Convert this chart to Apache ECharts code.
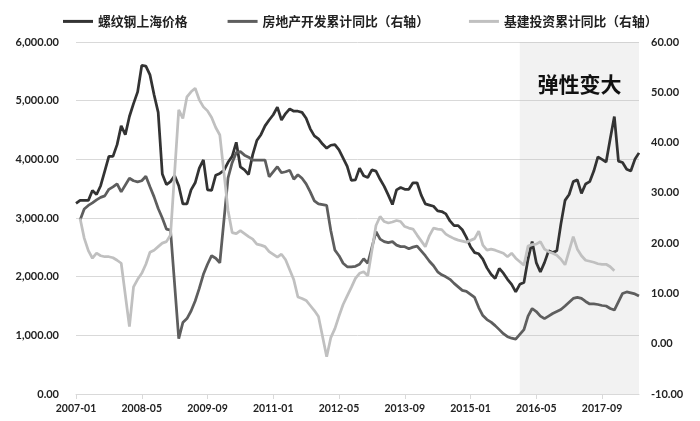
<!DOCTYPE html>
<html lang="zh-CN">
<head>
    <meta charset="UTF-8">
    <title>螺纹钢价格与地产、基建投资</title>
    <script src="https://cdn.jsdelivr.net/npm/echarts@6/dist/echarts.min.js"></script>
    <style>
        html, body { margin: 0; padding: 0; background: #fff; }
        #main { width: 700px; height: 421px; }
    </style>
</head>
<body>
<div id="main"></div>
<script type="text/javascript">
    // 月份 2007-01 ~ 2018-06
    var months = [];
    for (var y = 2007; y <= 2018; y++) {
        for (var m = 1; m <= 12; m++) {
            if (y === 2018 && m > 6) break;
            months.push(y + '-' + (m < 10 ? '0' + m : m));
        }
    }

    // 螺纹钢上海价格（左轴）
    var steelPrice = [
        3250, 3300, 3300, 3300, 3470, 3400, 3550, 3800, 4050, 4050, 4250, 4570,
        4420, 4730, 4950, 5150, 5600, 5590, 5440, 5100, 4800, 3750, 3570, 3620,
        3720, 3550, 3240, 3240, 3480, 3600, 3850, 3990, 3480, 3470, 3730, 3760,
        3810, 3950, 4050, 4290, 3870, 3820, 3740, 4080, 4320, 4420, 4570, 4670,
        4760, 4890, 4670, 4780, 4860, 4820, 4820, 4800, 4700, 4520, 4400, 4350,
        4260, 4190, 4240, 4250, 4160, 4020, 3880, 3640, 3650, 3850, 3720, 3690,
        3820, 3800, 3660, 3540, 3390, 3230, 3480, 3520, 3490, 3490, 3600, 3600,
        3390, 3240, 3220, 3200, 3120, 3110, 3070, 2950, 2870, 2870, 2800, 2670,
        2510, 2410, 2390, 2300, 2150, 2040, 1970, 2140, 2060, 1955, 1870, 1740,
        1870, 1900, 2300, 2600, 2240, 2080, 2240, 2440, 2410, 2440, 2900, 3300,
        3400, 3620, 3650, 3420, 3580, 3620, 3800, 4040, 4000, 3955, 4350, 4730,
        3970, 3945, 3830, 3800, 4000, 4110
    ];

    // 房地产开发累计同比（右轴），1月无数据
    var realEstate = [
        null, 24.6, 26.8, 27.5, 28.0, 28.6, 29.1, 29.4, 30.7, 31.2, 31.8, 30.2,
        null, 32.9, 32.4, 32.2, 32.4, 33.3, 31.2, 29.2, 26.9, 25.0, 22.8, 22.6,
        null, 1.0, 4.2, 5.0, 6.5, 8.5, 11.0, 13.8, 15.8, 17.5, 17.0, 16.1,
        null, 33.0, 36.0, 38.0, 38.2, 37.5, 37.1, 36.5, 36.5, 36.5, 36.5, 33.2,
        null, 35.2, 34.0, 34.2, 34.5, 32.7, 33.6, 32.9, 31.8, 30.2, 28.4, 27.8,
        null, 27.5, 22.5, 18.6, 17.5, 16.0, 15.3, 15.3, 15.4, 15.8, 16.9, 16.0,
        null, 22.3, 20.8, 20.3, 20.1, 20.3, 19.6, 19.3, 19.3, 18.9, 19.2, 19.4,
        null, 17.5, 16.4, 15.5, 14.3, 13.7, 13.3, 12.8, 12.0, 11.3, 10.6, 10.4,
        null, 9.2, 7.2, 5.6, 4.8, 4.3, 3.6, 2.8, 2.0, 1.4, 1.1, 0.9,
        null, 2.8, 5.5, 7.0, 6.4, 5.5, 5.0, 5.5, 6.0, 6.4, 6.8, 7.5,
        null, 9.0, 9.2, 9.0, 8.4, 7.9, 7.9, 7.8, 7.6, 7.5, 7.0, 6.7,
        null, 10.0, 10.3, 10.1, 9.9, 9.5
    ];

    // 基建投资累计同比（右轴）
    var infra = [
        null, 24.9, 21.0, 18.5, 17.0, 18.0, 17.5, 17.3, 17.3, 17.1, 16.6, 16.0,
        null, 3.4, 11.3, 12.8, 14.0, 15.8, 18.2, 18.6, 19.3, 20.0, 20.3, 21.6,
        null, 46.5, 44.8, 49.1, 50.1, 50.8, 48.5, 47.1, 46.3, 45.0, 43.0, 41.5,
        null, 26.5, 22.1, 21.9, 22.5, 21.9, 21.3, 20.8, 19.8, 19.6, 19.3, 18.3,
        null, 17.2, 17.8, 16.7, 14.7, 12.7, 9.3, 9.0, 8.6, 7.6, 6.6, 5.4,
        null, -2.6, 1.2, 3.0, 5.5, 7.8, 9.5, 11.2, 13.0, 14.0, 14.3, 13.5,
        null, 23.5, 25.3, 24.3, 24.0, 24.2, 24.5, 24.3, 23.3, 23.0, 22.8, 21.6,
        null, 19.3, 21.5, 23.0, 22.8, 22.7, 21.8, 21.3, 20.9, 20.6, 20.4, 20.2,
        null, 20.9, 22.4, 19.6, 18.6, 18.8, 18.6, 18.3, 18.0, 17.3, 18.0, 17.0,
        null, 15.6, 19.4, 19.7, 19.8, 20.3, 18.8, 18.3, 18.0, 17.6, 16.8, 15.7,
        null, 21.3, 18.8, 17.5, 16.6, 16.4, 16.2, 15.9, 15.8, 15.8, 15.3, 14.5,
        null, null, null, null, null, null
    ];

    var seriesNames = ['螺纹钢上海价格', '房地产开发累计同比（右轴）', '基建投资累计同比（右轴）'];
    var shadeRange = ['2016-01', '2018-06'];
    var shadeText = '弹性变大';

    var labelFont = {color: '#222', fontFamily: 'Lato', fontWeight: 'bold', fontSize: 11};

    var chart = echarts.init(document.getElementById('main'));
    chart.setOption({
        animation: false,
        backgroundColor: '#fff',
        grid: {left: 76, right: 61, top: 42, bottom: 27},
        legend: {
            data: seriesNames,
            left: 58,
            top: 10,
            icon: 'rect',
            itemWidth: 30,
            itemHeight: 3,
            itemGap: 40,
            textStyle: {
                color: '#222',
                fontFamily: 'Noto Sans CJK SC',
                fontWeight: 'bold',
                fontSize: 12.8
            }
        },
        xAxis: {
            type: 'category',
            data: months,
            boundaryGap: false,
            axisLine: {lineStyle: {color: '#d9d9d9', width: 1}},
            axisTick: {interval: 15, length: 5, lineStyle: {color: '#d9d9d9'}},
            axisLabel: Object.assign({interval: 15, margin: 9}, labelFont, {fontSize: 10.5})
        },
        yAxis: [
            {
                type: 'value',
                min: 0,
                max: 6000,
                interval: 1000,
                axisLine: {show: false},
                axisTick: {show: false},
                splitLine: {lineStyle: {color: '#d9d9d9'}},
                axisLabel: Object.assign({
                    margin: 17,
                    formatter: function (v) {
                        return v.toLocaleString('en-US', {minimumFractionDigits: 2, maximumFractionDigits: 2});
                    }
                }, labelFont)
            },
            {
                type: 'value',
                min: -10,
                max: 60,
                interval: 10,
                axisLine: {show: false},
                axisTick: {show: false},
                splitLine: {show: false},
                axisLabel: Object.assign({
                    margin: 12,
                    formatter: function (v) { return v.toFixed(2); }
                }, labelFont)
            }
        ],
        series: [
            {
                name: seriesNames[0],
                type: 'line',
                yAxisIndex: 0,
                data: steelPrice,
                symbol: 'none',
                color: '#333333',
                lineStyle: {width: 2.75, color: '#333333'}
            },
            {
                name: seriesNames[1],
                type: 'line',
                yAxisIndex: 1,
                data: realEstate,
                connectNulls: true,
                symbol: 'none',
                color: '#5e5e5e',
                lineStyle: {width: 2.75, color: '#5e5e5e'}
            },
            {
                name: seriesNames[2],
                type: 'line',
                yAxisIndex: 1,
                data: infra,
                connectNulls: true,
                symbol: 'none',
                color: '#c0c0c0',
                lineStyle: {width: 2.75, color: '#c0c0c0'}
            },
            {
                // 阴影区域，叠在线上方
                name: 'shade',
                type: 'line',
                yAxisIndex: 0,
                data: [],
                z: 5,
                silent: true,
                markArea: {
                    silent: true,
                    itemStyle: {color: 'rgba(190,190,190,0.2)'},
                    label: {
                        show: true,
                        position: 'insideTop',
                        distance: 32,
                        color: '#111',
                        fontFamily: 'Noto Sans CJK SC',
                        fontWeight: 'bold',
                        fontSize: 21
                    },
                    data: [[{name: shadeText, xAxis: shadeRange[0]}, {xAxis: shadeRange[1]}]]
                }
            }
        ]
    });
</script>
</body>
</html>
